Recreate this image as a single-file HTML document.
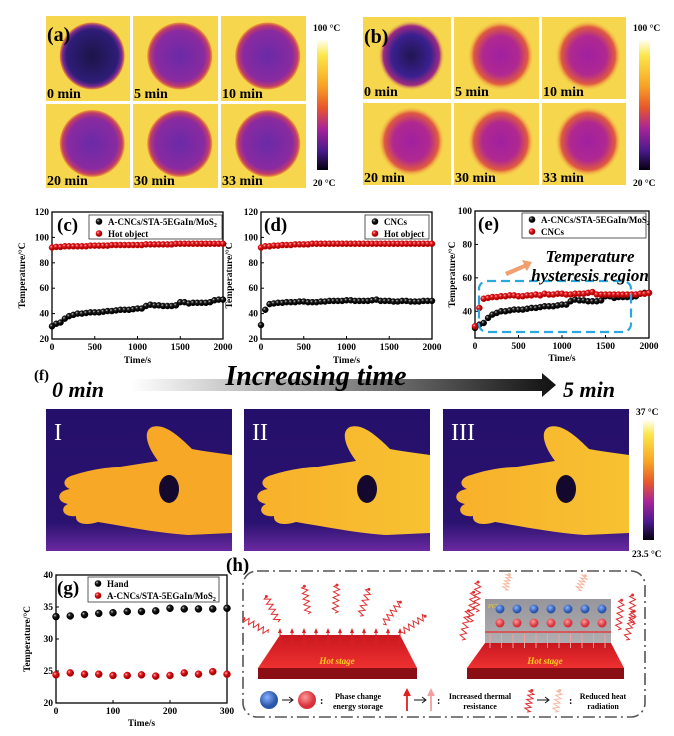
<!DOCTYPE html>
<html><head><meta charset="utf-8">
<style>
html,body{margin:0;padding:0;background:#fff;}
svg{display:block;font-family:"Liberation Serif",serif;}
</style></head>
<body>
<svg id="fig" width="674" height="736" viewBox="0 0 674 736" xmlns="http://www.w3.org/2000/svg">
<defs>
<linearGradient id="cbar" x1="0" y1="0" x2="0" y2="1">
<stop offset="0" stop-color="#fffff2"/><stop offset="0.12" stop-color="#fbe64a"/><stop offset="0.35" stop-color="#f8a424"/><stop offset="0.52" stop-color="#e8562c"/><stop offset="0.68" stop-color="#a82598"/><stop offset="0.85" stop-color="#4a1a8c"/><stop offset="1" stop-color="#050010"/>
</linearGradient>
<radialGradient id="blobA0"><stop offset="0" stop-color="#1c1448"/><stop offset="0.78" stop-color="#2e1d78"/><stop offset="0.9" stop-color="#7a2a90"/><stop offset="0.97" stop-color="#e07a40"/><stop offset="1" stop-color="#f1b83a" stop-opacity="0"/></radialGradient>
<radialGradient id="blobA"><stop offset="0" stop-color="#6a2aa8"/><stop offset="0.75" stop-color="#8a2aa0"/><stop offset="0.9" stop-color="#c03c6a"/><stop offset="0.97" stop-color="#e88a3a"/><stop offset="1" stop-color="#f3b43a" stop-opacity="0"/></radialGradient>
<radialGradient id="blobB0"><stop offset="0" stop-color="#201650"/><stop offset="0.6" stop-color="#3a2090"/><stop offset="0.85" stop-color="#a02a80"/><stop offset="1" stop-color="#f2c440" stop-opacity="0"/></radialGradient>
<radialGradient id="blobB"><stop offset="0" stop-color="#a020a0"/><stop offset="0.55" stop-color="#b02890"/><stop offset="0.82" stop-color="#e05a40"/><stop offset="1" stop-color="#f6cc44" stop-opacity="0"/></radialGradient>
<linearGradient id="arrowG" x1="0" x2="1"><stop offset="0" stop-color="#fff"/><stop offset="1" stop-color="#111"/></linearGradient>
<linearGradient id="handG" x1="0" x2="1"><stop offset="0" stop-color="#f8b02a"/><stop offset="1" stop-color="#f7c232"/></linearGradient>
<linearGradient id="handBg" x1="0" y1="0" x2="0" y2="1"><stop offset="0" stop-color="#24106a"/><stop offset="0.8" stop-color="#2a1270"/><stop offset="1" stop-color="#6a2aa0"/></linearGradient>
<radialGradient id="ballK" cx="0.35" cy="0.35"><stop offset="0" stop-color="#ddd"/><stop offset="0.4" stop-color="#222"/><stop offset="1" stop-color="#000"/></radialGradient>
<radialGradient id="ballR" cx="0.35" cy="0.35"><stop offset="0" stop-color="#ffd0d0"/><stop offset="0.4" stop-color="#e8232a"/><stop offset="1" stop-color="#a00"/></radialGradient>
<radialGradient id="sphB" cx="0.4" cy="0.35"><stop offset="0" stop-color="#8ab0ff"/><stop offset="1" stop-color="#2a55a8"/></radialGradient>
<radialGradient id="sphR" cx="0.4" cy="0.35"><stop offset="0" stop-color="#ff9a9a"/><stop offset="1" stop-color="#d8303a"/></radialGradient>
<linearGradient id="slabTop" x1="0" y1="0" x2="0" y2="1"><stop offset="0" stop-color="#c81820"/><stop offset="1" stop-color="#ee3030"/></linearGradient>
<linearGradient id="pcmBox" x1="0" y1="0" x2="0" y2="1"><stop offset="0" stop-color="#8a8a90"/><stop offset="1" stop-color="#a8a4a8"/></linearGradient>
</defs>
<g id="top"></g>
<g id="fpanel"></g>
<g id="charts"></g>
<g id="hpanel"></g>
</svg>
<script>
// ===== Chart data =====
const timesLong = [0,50,100,150,200,250,300,350,400,450,500,550,600,650,700,750,800,850,900,950,1000,1050,1100,1150,1200,1250,1300,1350,1400,1450,1500,1550,1600,1650,1700,1750,1800,1850,1900,1950,2000];
const cBlack = [30,32,33,36,38,39,40,40,40.5,41,41,41,41.5,42,42,42.5,43,43,43,43.5,44,44,46,47,46.5,46.5,46,46,46,46.5,49,49,48,48.5,48.5,48.5,48.5,49,50.5,51,51];
const cRed = [92,92.5,92.5,93,93,93,93,93,93,93.5,93.5,93.5,93.5,93.5,94,94,94,94,94,94,94,94,94.5,94.5,94.5,94.5,94.5,94.5,94.5,95,95,95,95,95,95,95,95,95,95,95,95];
const dBlack = [31,43,47.5,48,48.5,48.5,49,49,49,49.5,49.5,49,49,49,49.5,49.5,50,50,50,50,50.5,50.5,50,50,50,50,50.5,51,50,50,50,49.5,49.5,50,50,49.5,49.5,49.5,50,50,50];
const dRed = [92,93,93,93.5,93.5,94,94,94,94.5,94.5,94.5,94.5,95,95,95,95,95,95,95,95,95,95,95,95,95,95,95,95,95,95,95,95,95,95,95,95,95,95,95,95,95];
const eBlack = [30,32,33,36,38,39,40,40,40.5,41,41,41,41.5,42,42,42.5,43,43,43,43.5,44,44,46,47,46.5,46.5,46,46,46,46.5,49,49,48,48.5,48.5,48.5,48.5,49,50.5,51,51];
const eRed = [31,42,47.5,48,48.5,48.5,49,49,49.5,49.5,49,49,49.5,49.5,50,49.5,50.5,50,50,50.5,50.5,50,50,50.5,50.5,50.5,51,51.5,50,50,50,50,50,50,50,50,50,50,50.5,50.5,51];
const gTimes = [0,25,50,75,100,125,150,175,200,225,250,275,300];
const gHand = [33.5,33.6,33.8,34,34.1,34.3,34.3,34.4,34.8,34.7,34.7,34.7,34.8];
const gFilm = [24.4,24.7,24.5,24.5,24.3,24.3,24.4,24.2,24.3,24.7,24.5,24.9,24.5];
const xTicks2000 = [0,500,1000,1500,2000];
const yTicks120 = [20,40,60,80,100,120];
const yTicks100 = [40,60,80,100];
const xTicks300 = [0,100,200,300];
const yTicks40 = [20,25,30,35,40];

const NS = "http://www.w3.org/2000/svg";
function mk(tag, attrs, parent, text){
  const el = document.createElementNS(NS, tag);
  for (const k in attrs) el.setAttribute(k, attrs[k]);
  if (text !== undefined) el.textContent = text;
  parent.appendChild(el);
  return el;
}

function drawChart(cfg){
  const root = document.getElementById('charts');
  const g = mk('g', {}, root);
  
  
  const sx = v => cfg.x0 + (v - cfg.xmin) / (cfg.xmax - cfg.xmin) * (cfg.x1 - cfg.x0);
  const sy = v => cfg.y1 - (v - cfg.ymin) / (cfg.ymax - cfg.ymin) * (cfg.y1 - cfg.y0);
  const frame = mk('rect', {x:cfg.x0, y:cfg.y0, width:cfg.x1-cfg.x0, height:cfg.y1-cfg.y0, fill:'none', stroke:'#000', 'stroke-width':1.3}, g);
  
  
  cfg.xticks.forEach(t => {
    mk('line', {x1:sx(t), x2:sx(t), y1:cfg.y1, y2:cfg.y1-3, stroke:'#000'}, g);
    const lb = mk('text', {x:sx(t), y:cfg.y1+11, 'font-size':9.5, 'font-weight':'bold', 'text-anchor':'middle'}, g, String(t));
    
    
  });
  cfg.yticks.forEach(t => {
    mk('line', {x1:cfg.x0, x2:cfg.x0+3, y1:sy(t), y2:sy(t), stroke:'#000'}, g);
    const lb = mk('text', {x:cfg.x0-3, y:sy(t)+3, 'font-size':9.5, 'font-weight':'bold', 'text-anchor':'end'}, g, String(t));
    
    
  });
  const xl = mk('text', {x:(cfg.x0+cfg.x1)/2, y:cfg.xlabY, 'font-size':9.5, 'font-weight':'bold', 'text-anchor':'middle'}, g, 'Time/s');
  
  
  const yl = mk('text', {x:0, y:0, 'font-size':9.5, 'font-weight':'bold', 'text-anchor':'middle', transform:'translate('+cfg.ylabX+','+((cfg.y0+cfg.y1)/2)+') rotate(-90)'}, g, 'Temperature/\u00B0C');
  
  
  cfg.series.forEach(s => {
    const sg = mk('g', {}, g);
    
    
    s.vals.forEach((v, i) => {
      const c = mk('circle', {cx:sx(s.t[i]), cy:sy(v), r:cfg.r, fill:s.fill, stroke:s.stroke, 'stroke-width':0.5}, sg);
      
      
    });
  });
  const lg = mk('g', {}, g);
  
  
  mk('rect', {x:cfg.lg[0], y:cfg.lg[1], width:cfg.lg[2], height:cfg.lg[3], fill:'#fff', stroke:'#333', 'stroke-width':0.8}, lg);
  cfg.series.forEach((s, i) => {
    const cy = cfg.lg[1] + 6.5 + i*12;
    const m = mk('circle', {cx:cfg.lg[0]+10, cy:cy, r:3.3, fill:s.fill}, lg);
    
    
    const t = mk('text', {x:cfg.lg[0]+19, y:cy+3.5, 'font-size':9, 'font-weight':'bold'}, lg, s.label);
    
    
    if (s.sub) mk('tspan', {'font-size':6, dy:2}, t, s.sub);
  });
  const pl = mk('text', {x:cfg.pl[0], y:cfg.pl[1], 'font-size':19, 'font-weight':'bold'}, g, cfg.panel);
  
  
}
const K = {fill:'url(#ballK)', stroke:'#000'}, R = {fill:'url(#ballR)', stroke:'#c00'};
drawChart({name:'chart-c', panel:'(c)', pl:[57,231], x0:52, x1:223, y0:212, y1:339, xmin:0, xmax:2000, ymin:20, ymax:120, xticks:xTicks2000, yticks:yTicks120, xlabY:363, ylabX:25, r:3, lg:[89,215,133,24],
  series:[{name:'series-composite', t:timesLong, vals:cBlack, label:'A-CNCs/STA-5EGaIn/MoS', sub:'2', ...K},{name:'series-hot-object', t:timesLong, vals:cRed, label:'Hot object', ...R}]});
drawChart({name:'chart-d', panel:'(d)', pl:[264,231], x0:261, x1:432, y0:212, y1:339, xmin:0, xmax:2000, ymin:20, ymax:120, xticks:xTicks2000, yticks:yTicks120, xlabY:363, ylabX:232, r:3, lg:[365,215,64,24],
  series:[{name:'series-cncs', t:timesLong, vals:dBlack, label:'CNCs', ...K},{name:'series-hot-object', t:timesLong, vals:dRed, label:'Hot object', ...R}]});
drawChart({name:'chart-e', panel:'(e)', pl:[478,230], x0:475, x1:649, y0:211, y1:338, xmin:0, xmax:2000, ymin:24, ymax:100, xticks:xTicks2000, yticks:yTicks100, xlabY:361, ylabX:455, r:3, lg:[522,213,124,25],
  series:[{name:'series-composite', t:timesLong, vals:eBlack, label:'A-CNCs/STA-5EGaIn/MoS', sub:'2', ...K},{name:'series-cncs', t:timesLong, vals:eRed, label:'CNCs', ...R}]});
drawChart({name:'chart-g', panel:'(g)', pl:[57,594], x0:56, x1:227, y0:575, y1:703, xmin:0, xmax:300, ymin:20, ymax:40, xticks:xTicks300, yticks:yTicks40, xlabY:726, ylabX:30, r:3.5, lg:[88,577,131,25],
  series:[{name:'series-hand', t:gTimes, vals:gHand, label:'Hand', ...K},{name:'series-film', t:gTimes, vals:gFilm, label:'A-CNCs/STA-5EGaIn/MoS', sub:'2', ...R}]});

// e annotations
(function(){
  const root = document.getElementById('charts');
  const box = mk('rect', {x:479, y:281, width:152, height:51, rx:8, fill:'none', stroke:'#29a8e0', 'stroke-width':2.2, 'stroke-dasharray':'9 5'}, root);
  
  
  const ar = mk('path', {d:'M505,272 L524,264 L522,260 L532,262 L527,271 L525,268 L507,276 Z', fill:'#f0a070'}, root);
  
  
  const t1 = mk('text', {x:590, y:262, 'font-size':17, 'font-weight':'bold', 'font-style':'italic', 'text-anchor':'middle'}, root, 'Temperature');
  
  
  const t2 = mk('text', {x:590, y:281, 'font-size':17, 'font-weight':'bold', 'font-style':'italic', 'text-anchor':'middle'}, root, 'hysteresis region');
  
  
})();

// ===== Top thermal panels =====
(function(){
  const root = document.getElementById('top');
  const labels = ['0 min','5 min','10 min','20 min','30 min','33 min'];
  function panel(cols, rows, blob0, blob, rx, ry, name){
    labels.forEach((lab, i) => {
      const c = i % 3, r = Math.floor(i / 3);
      const x = cols[c][0], w = cols[c][1]-cols[c][0], y = rows[r][0], h = rows[r][1]-rows[r][0];
      const g = mk('g', {}, root);
      
      
      mk('rect', {x:x, y:y, width:w, height:h, fill:'#f6d64c'}, g);
      mk('ellipse', {cx:x+w*0.55, cy:y+h*0.47, rx:rx, ry:ry, fill:i===0?blob0:blob}, g);
      const t = mk('text', {x:x+1, y:y+h-3, 'font-size':14, 'font-weight':'bold'}, g, lab);
      
      
    });
  }
  panel([[46,130],[133,218],[221,306]], [[16,101],[104,188]], 'url(#blobA0)', 'url(#blobA)', 33, 34, 'panel-a');
  panel([[363,451],[454,539],[542,626]], [[17,99],[103,185]], 'url(#blobB0)', 'url(#blobB)', 33, 35, 'panel-b');
  [['(a)',47,41],['(b)',364,43]].forEach(p => {
    const t = mk('text', {x:p[1], y:p[2], 'font-size':20, 'font-weight':'bold'}, root, p[0]);
    
    
  });
  [[317,'100 \u00B0C','20 \u00B0C',313],[639,'100 \u00B0C','20 \u00B0C',633]].forEach(b => {
    const r = mk('rect', {x:b[0], y:40, width:11, height:130, fill:'url(#cbar)'}, root);
    
    
    const t1 = mk('text', {x:b[3], y:31, 'font-size':9.5, 'font-weight':'bold'}, root, b[1]);
    
    
    const t2 = mk('text', {x:b[3], y:186, 'font-size':9.5, 'font-weight':'bold'}, root, b[2]);
    
    
  });
})();

// ===== Panel f =====
(function(){
  const root = document.getElementById('fpanel');
  const fl = mk('text', {x:34, y:380, 'font-size':15, 'font-weight':'bold'}, root, '(f)');
  
  
  const t0 = mk('text', {x:52, y:397, 'font-size':22, 'font-weight':'bold', 'font-style':'italic'}, root, '0 min');
  
  
  const bar = mk('path', {d:'M131,379 L542,379 L542,373 L556,385 L542,397 L542,391 L131,391 Z', fill:'url(#arrowG)'}, root);
  
  
  const it = mk('text', {x:316, y:385, 'font-size':28, 'font-weight':'bold', 'font-style':'italic', 'text-anchor':'middle'}, root, 'Increasing time');
  
  
  const t5 = mk('text', {x:563, y:397, 'font-size':22, 'font-weight':'bold', 'font-style':'italic'}, root, '5 min');
  
  
  const handPath = 'M186,46 C172,44 156,42 146,40 C132,26 118,14 106,18 C97,22 100,36 112,52 L74,58 C58,58 40,62 28,66 C16,69 16,77 24,80 C10,82 10,93 22,95 C13,99 17,109 30,107 C29,115 40,117 52,113 C82,118 112,124 142,126 L186,124 Z';
  [[46,'I'],[244,'II'],[443,'III']].forEach((h, i) => {
    const g = mk('g', {transform:'translate('+h[0]+',409)'}, root);
    
    
    mk('rect', {x:0, y:0, width:186, height:142, fill:'url(#handBg)'}, g);
    mk('path', {d:handPath, fill:i===0?'#f7a826':'url(#handG)'}, g);
    mk('ellipse', {cx:123, cy:80, rx:10, ry:14, fill:'#14082e'}, g);
    const r = mk('text', {x:8, y:31, 'font-size':24, fill:'#fff'}, g, h[1]);
    
    
  });
  const cb = mk('rect', {x:643, y:420, width:11, height:120, fill:'url(#cbar)'}, root);
  
  
  const a = mk('text', {x:636, y:415, 'font-size':9.5, 'font-weight':'bold'}, root, '37 \u00B0C');
  
  
  const b = mk('text', {x:632, y:557, 'font-size':9.5, 'font-weight':'bold'}, root, '23.5 \u00B0C');
  
  
})();

// ===== Panel h =====
(function(){
  const root = document.getElementById('hpanel');
  const hl = mk('text', {x:226, y:571, 'font-size':19, 'font-weight':'bold'}, root, '(h)');
  
  
  const box = mk('rect', {x:243, y:571, width:402, height:146, rx:14, fill:'none', stroke:'#555', 'stroke-width':1.6, 'stroke-dasharray':'12 4 2 4'}, root);
  
  
  function wave(x, y, ang, len, col){
    let d = '';
    const n = 5, amp = 3;
    for (let i = 0; i <= n*4; i++){
      const s = i/(n*4)*len, o = Math.sin(i/4*Math.PI*2)*amp;
      const px = x + Math.cos(ang)*s - Math.sin(ang)*o, py = y + Math.sin(ang)*s + Math.cos(ang)*o;
      d += (i?'L':'M') + px.toFixed(1) + ',' + py.toFixed(1);
    }
    const w = mk('path', {d:d, fill:'none', stroke:col, 'stroke-width':1}, root);
    
    
    const ex = x + Math.cos(ang)*len, ey = y + Math.sin(ang)*len;
    mk('circle', {cx:ex, cy:ey, r:1.5, fill:col}, root);
  }
  const lt = mk('path', {d:'M280,635 L400,635 L417,668 L258,668 Z', fill:'url(#slabTop)'}, root);
  
  
  mk('rect', {x:258, y:668, width:159, height:11, fill:'#8a0e14'}, root);
  const hs1 = mk('text', {x:337, y:664, 'font-size':9, 'font-style':'italic', 'font-weight':'bold', fill:'#f8d020', 'text-anchor':'middle'}, root, 'Hot stage');
  
  
  for (let i = 0; i < 11; i++){
    const x = 280 + i*12;
    mk('line', {x1:x, y1:645, x2:x, y2:632, stroke:'#e02020', 'stroke-width':1}, root);
    mk('path', {d:'M'+(x-2)+',633 L'+x+',628 L'+(x+2)+',633 Z', fill:'#e02020'}, root);
  }
  [[268,633,-2.6],[278,622,-2.0],[308,614,-1.7],[335,613,-1.5],[360,616,-1.25],[383,624,-0.9],[402,632,-0.6]].forEach(w => wave(w[0], w[1], w[2], 28, '#e03030'));
  const rt = mk('path', {d:'M485,643 L611,643 L624,668 L467,668 Z', fill:'url(#slabTop)'}, root);
  
  
  mk('rect', {x:467, y:668, width:157, height:11, fill:'#8a0e14'}, root);
  const hs2 = mk('text', {x:545, y:664, 'font-size':9, 'font-style':'italic', 'font-weight':'bold', fill:'#f8d020', 'text-anchor':'middle'}, root, 'Hot stage');
  
  
  const pcm = mk('rect', {x:485, y:599, width:126, height:44, fill:'url(#pcmBox)', opacity:0.9}, root);
  
  
  mk('text', {x:488, y:608, 'font-size':6, 'font-style':'italic', fill:'#f8d020'}, root, 'PCM');
  for (let i = 0; i < 7; i++){
    mk('circle', {cx:500+i*17, cy:609, r:4.5, fill:'url(#sphB)'}, root);
    mk('circle', {cx:500+i*17, cy:623, r:4.5, fill:'url(#sphR)'}, root);
  }
  mk('line', {x1:485, y1:632, x2:611, y2:632, stroke:'#e04040', 'stroke-width':1.5}, root);
  for (let i = 0; i < 11; i++){
    const x = 490 + i*11.5;
    mk('line', {x1:x, y1:648, x2:x, y2:634, stroke:'#f0a0a0', 'stroke-width':1}, root);
  }
  [[462,640,-1.35],[470,622,-1.45],[476,612,-1.5],[618,630,-1.45],[626,640,-1.3],[632,625,-1.55]].forEach(w => wave(w[0], w[1], w[2], 30, '#e03030'));
  [[505,590,-1.3],[578,590,-1.1]].forEach(w => wave(w[0], w[1], w[2], 16, '#f5b8a0'));
  const lg = mk('g', {}, root);
  
  
  mk('circle', {cx:269, cy:700, r:9, fill:'url(#sphB)'}, lg);
  mk('path', {d:'M282,700 L292,700 M289,697 L293,700 L289,703', stroke:'#111', fill:'none'}, lg);
  mk('circle', {cx:307, cy:700, r:9, fill:'url(#sphR)'}, lg);
  mk('text', {x:320, y:704, 'font-size':10, 'font-weight':'bold'}, lg, ':');
  mk('text', {x:358, y:699, 'font-size':8, 'font-weight':'bold', 'text-anchor':'middle'}, lg, 'Phase change');
  mk('text', {x:358, y:709, 'font-size':8, 'font-weight':'bold', 'text-anchor':'middle'}, lg, 'energy storage');
  mk('path', {d:'M407,711 L407,693 M404,696 L407,690 L410,696', stroke:'#e02020', 'stroke-width':1.8, fill:'#e02020'}, lg);
  mk('path', {d:'M414,700 L425,700 M422,697 L426,700 L422,703', stroke:'#111', fill:'none'}, lg);
  mk('path', {d:'M431,711 L431,693 M428,696 L431,690 L434,696', stroke:'#f0a0a0', 'stroke-width':1.8, fill:'#f0a0a0'}, lg);
  mk('text', {x:437, y:704, 'font-size':10, 'font-weight':'bold'}, lg, ':');
  mk('text', {x:480, y:699, 'font-size':8, 'font-weight':'bold', 'text-anchor':'middle'}, lg, 'Increased thermal');
  mk('text', {x:480, y:709, 'font-size':8, 'font-weight':'bold', 'text-anchor':'middle'}, lg, 'resistance');
  wave(527, 712, -1.35, 22, '#e03030');
  mk('path', {d:'M537,700 L548,700 M545,697 L549,700 L545,703', stroke:'#111', fill:'none'}, lg);
  wave(555, 712, -1.35, 22, '#f5b8a0');
  mk('text', {x:569, y:704, 'font-size':10, 'font-weight':'bold'}, lg, ':');
  mk('text', {x:603, y:699, 'font-size':8, 'font-weight':'bold', 'text-anchor':'middle'}, lg, 'Reduced heat');
  mk('text', {x:603, y:709, 'font-size':8, 'font-weight':'bold', 'text-anchor':'middle'}, lg, 'radiation');
})();
</script>
</body></html>
